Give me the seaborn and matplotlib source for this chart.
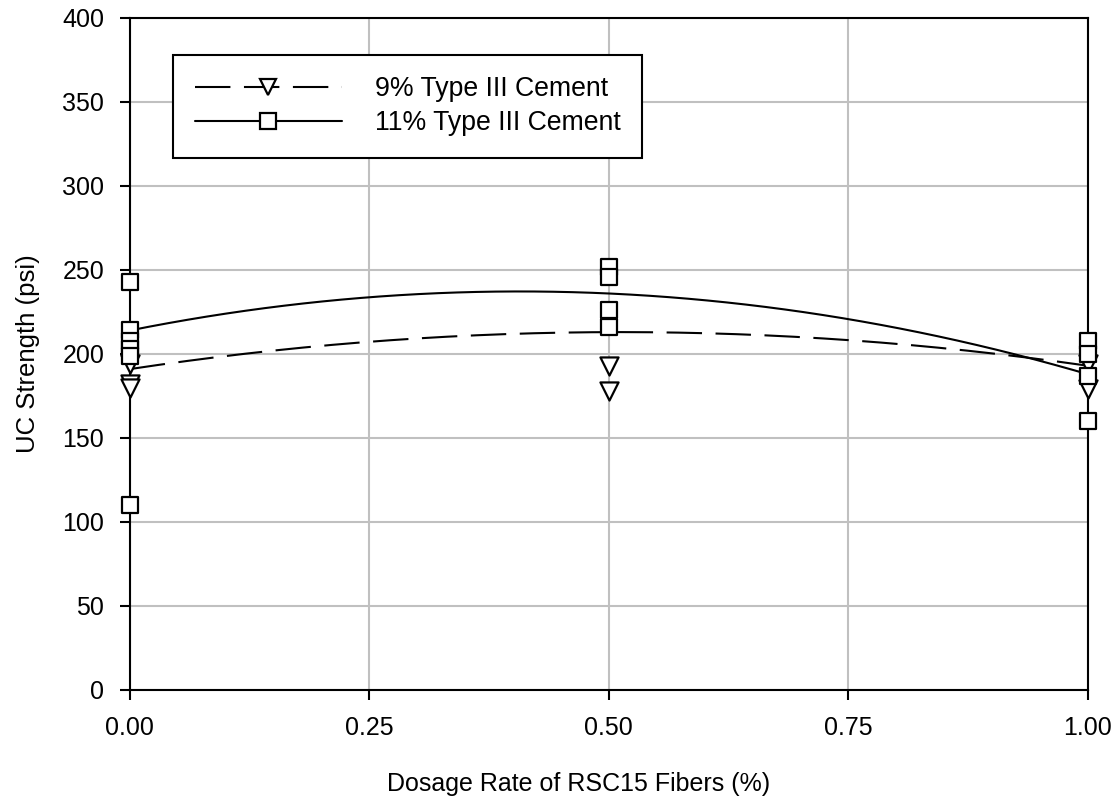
import numpy as np
import pandas as pd
import matplotlib
matplotlib.use("Agg")
import matplotlib.pyplot as plt
import seaborn as sns
from matplotlib.lines import Line2D

# ---- data ----
x_9 = [0.0, 0.0, 0.0, 0.5, 0.5, 1.0, 1.0]
y_9 = [194, 182, 180, 193, 178, 194, 179]
x_11 = [0.0, 0.0, 0.0, 0.0, 0.0, 0.0, 0.5, 0.5, 0.5, 0.5, 1.0, 1.0, 1.0, 1.0]
y_11 = [243, 214, 208, 203, 199, 110, 252, 246, 226, 216, 208, 200, 187, 160]
trend_x = [0.0, 0.5, 1.0]
trend_9 = [191, 213, 193]
trend_11 = [214, 236, 188]
xticks = [0.0, 0.25, 0.5, 0.75, 1.0]
xtick_labels = ["0.00", "0.25", "0.50", "0.75", "1.00"]
yticks = list(range(0, 401, 50))
label_9 = "9% Type III Cement"
label_11 = "11% Type III Cement"

sns.set_theme(style="white")
plt.rcParams['font.family'] = ['Liberation Sans', 'DejaVu Sans']
plt.rcParams.update({"text.color": "black", "axes.labelcolor": "black",
                     "xtick.color": "black", "ytick.color": "black"})

fig = plt.figure(figsize=(11.2, 8.02), dpi=100)
ax = fig.add_axes([0.116, 0.1397, 0.855, 0.8379])

DASH = [17, 6.5]
LW = 1.5

# trend curves (quadratic through read trend values)
xs = np.linspace(0, 1, 200)
c9 = np.polyfit(trend_x, trend_9, 2)
c11 = np.polyfit(trend_x, trend_11, 2)
df9 = pd.DataFrame({"x": xs, "y": np.polyval(c9, xs)})
df11 = pd.DataFrame({"x": xs, "y": np.polyval(c11, xs)})
sns.lineplot(data=df9, x="x", y="y", ax=ax, color="black", lw=LW, legend=False)
ax.lines[-1].set_dashes(DASH)
sns.lineplot(data=df11, x="x", y="y", ax=ax, color="black", lw=LW, legend=False)

sns.scatterplot(x=x_9, y=y_9, ax=ax, marker="v", s=170, facecolor="white",
                edgecolor="black", linewidth=1.6, zorder=5, clip_on=False)
sns.scatterplot(x=x_11, y=y_11, ax=ax, marker="s", s=125, facecolor="white",
                edgecolor="black", linewidth=1.6, zorder=6, clip_on=False)

ax.set_xlim(0, 1)
ax.set_ylim(0, 400)
ax.set_xticks(xticks)
ax.set_xticklabels(xtick_labels)
ax.set_yticks(yticks)
ax.grid(True, color="#c0c0c0", lw=1.5)
ax.set_axisbelow(True)
for sp in ax.spines.values():
    sp.set_color("black")
    sp.set_linewidth(1.5)
    sp.set_zorder(4)
ax.tick_params(axis="both", labelsize=18, colors="black", direction="out",
               length=7.5, width=1.5, left=True, bottom=True)
ax.tick_params(axis="y", pad=11)
ax.tick_params(axis="x", pad=11)
ax.set_xlabel("Dosage Rate of RSC15 Fibers (%)", fontsize=18, labelpad=23, x=0.469)
ax.set_ylabel("UC Strength (psi)", fontsize=18.5, labelpad=16)

h9 = Line2D([], [], color="black", lw=LW, dashes=DASH, marker="v", ms=12,
            mfc="white", mec="black", mew=1.6)
h11 = Line2D([], [], color="black", lw=LW, marker="s", ms=11,
             mfc="white", mec="black", mew=1.6)
leg = ax.legend([h9, h11], [label_9, label_11],
                loc="upper left", bbox_to_anchor=(0.045, 0.9455), fontsize=19.2,
                handlelength=5.5, frameon=True, fancybox=False, borderpad=0.82,
                labelspacing=0.3, edgecolor="black", framealpha=1,
                handletextpad=1.25, borderaxespad=0)
leg.get_frame().set_linewidth(1.5)

fig.savefig("out.png", dpi=100)
